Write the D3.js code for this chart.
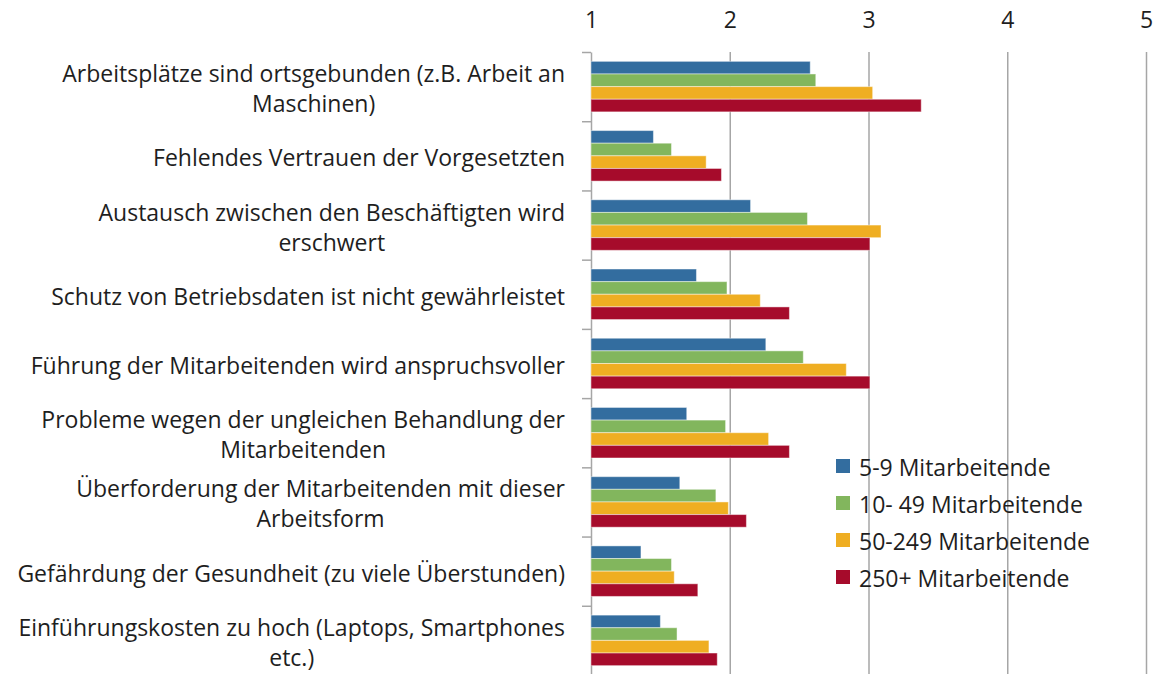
<!DOCTYPE html>
<html>
<head>
<meta charset="utf-8">
<script src="https://cdn.jsdelivr.net/npm/d3@7"></script>
<style>
  body { margin: 0; background: #fff; }
  text { font-family: "Open Sans", sans-serif; fill: #1e1e1e; }
</style>
</head>
<body>
<svg id="chart" width="1162" height="674"></svg>
<script>
// categories, one line break where the original wraps
const categories = [
    "Arbeitsplätze sind ortsgebunden (z.B. Arbeit an\nMaschinen)",
    "Fehlendes Vertrauen der Vorgesetzten",
    "Austausch zwischen den Beschäftigten wird\nerschwert",
    "Schutz von Betriebsdaten ist nicht gewährleistet",
    "Führung der Mitarbeitenden wird anspruchsvoller",
    "Probleme wegen der ungleichen Behandlung der\nMitarbeitenden",
    "Überforderung der Mitarbeitenden mit dieser\nArbeitsform",
    "Gefährdung der Gesundheit (zu viele Überstunden)",
    "Einführungskosten zu hoch (Laptops, Smartphones\netc.)"
];
const seriesNames = ["5-9 Mitarbeitende", "10- 49 Mitarbeitende", "50-249 Mitarbeitende", "250+ Mitarbeitende"];
const seriesColors = ["#336d9f", "#82b65d", "#efae22", "#a60b2b"];
const v5to9 =    [2.58, 1.45, 2.15, 1.76, 2.26, 1.69, 1.64, 1.36, 1.50];
const v10to49 =  [2.62, 1.58, 2.56, 1.98, 2.53, 1.97, 1.90, 1.58, 1.62];
const v50to249 = [3.03, 1.83, 3.09, 2.22, 2.84, 2.28, 1.99, 1.60, 1.85];
const v250plus = [3.38, 1.94, 3.01, 2.43, 3.01, 2.43, 2.12, 1.77, 1.91];
const tickValues = [1, 2, 3, 4, 5];

const seriesValues = [v5to9, v10to49, v50to249, v250plus];
const rows = categories.map((c, i) => ({
    cat: c,
    vals: seriesNames.map((s, j) => ({ series: s, value: seriesValues[j][i], color: seriesColors[j] }))
}));

const svg = d3.select("#chart");
const plotTop = 52, plotBottom = 675, plotLeft = 591, plotRight = 1146;
const fontSize = 23;

const x = d3.scaleLinear().domain([1, 5]).range([plotLeft, plotRight]);
const y = d3.scaleBand().domain(categories).range([plotTop, plotBottom]);
const yInner = d3.scaleBand().domain(seriesNames).range([0, y.bandwidth()]).paddingOuter(0.74);

// gridlines
svg.append("g")
    .attr("transform", `translate(0,${plotTop})`)
    .call(d3.axisBottom(x).tickValues(tickValues.slice(1)).tickSize(plotBottom - plotTop).tickFormat(""))
    .call(g => g.select(".domain").remove())
    .call(g => g.selectAll("line").attr("stroke", "#a6a6a6").attr("stroke-width", 1.5));

// top tick labels
svg.append("g")
    .attr("transform", "translate(0,28)")
    .call(d3.axisTop(x).tickValues(tickValues).tickSize(0).tickPadding(0).tickFormat(d3.format("d")))
    .call(g => g.select(".domain").remove())
    .call(g => g.selectAll("text").attr("font-size", fontSize).attr("font-family", "Open Sans").attr("fill", "#1e1e1e"));

// left axis with ticks at group boundaries
const yEdge = d3.scaleLinear().domain([0, categories.length]).range([plotTop, plotBottom]);
svg.append("g")
    .attr("transform", `translate(${plotLeft},0)`)
    .call(d3.axisLeft(yEdge).tickValues(d3.range(categories.length + 1)).tickSizeInner(9).tickSizeOuter(0).tickFormat(""))
    .call(g => g.select(".domain").attr("stroke", "#a6a6a6").attr("stroke-width", 1.5))
    .call(g => g.selectAll("line").attr("stroke", "#a6a6a6").attr("stroke-width", 1.5));

// bars
const groups = svg.append("g").selectAll("g")
    .data(rows)
    .join("g")
    .attr("transform", d => `translate(0,${y(d.cat)})`);

groups.selectAll("rect")
    .data(d => d.vals)
    .join("rect")
    .attr("x", x(1))
    .attr("y", d => yInner(d.series))
    .attr("width", d => x(d.value) - x(1))
    .attr("height", yInner.bandwidth())
    .attr("fill", d => d.color)
    .attr("stroke", "rgba(255,255,255,0.45)")
    .attr("stroke-width", 1);

// category labels: block right aligned, lines centred within block
const labelRight = 565, lineH = 30;
rows.forEach(r => {
    const lines = r.cat.split("\n");
    const g = svg.append("g");
    const texts = g.selectAll("text")
        .data(lines)
        .join("text")
        .attr("font-size", fontSize)
        .attr("text-anchor", "middle")
        .attr("dominant-baseline", "central")
        .text(d => d);
    let w = 0;
    texts.each(function() { w = Math.max(w, this.getComputedTextLength()); });
    const cy = y(r.cat) + y.bandwidth() / 2 + 1.5;
    texts.attr("x", labelRight - w / 2)
        .attr("y", (d, i) => cy + (i - (lines.length - 1) / 2) * lineH);
});

// legend
const legend = svg.append("g").attr("transform", "translate(836,466)");
const item = legend.selectAll("g")
    .data(seriesNames)
    .join("g")
    .attr("transform", (d, i) => `translate(0,${i * 37})`);
item.append("rect")
    .attr("x", 0).attr("y", -7)
    .attr("width", 14).attr("height", 14)
    .attr("fill", (d, i) => seriesColors[i]);
item.append("text")
    .attr("x", 23)
    .attr("y", 1)
    .attr("dominant-baseline", "central")
    .attr("font-size", fontSize)
    .text(d => d);
</script>
</body>
</html>
